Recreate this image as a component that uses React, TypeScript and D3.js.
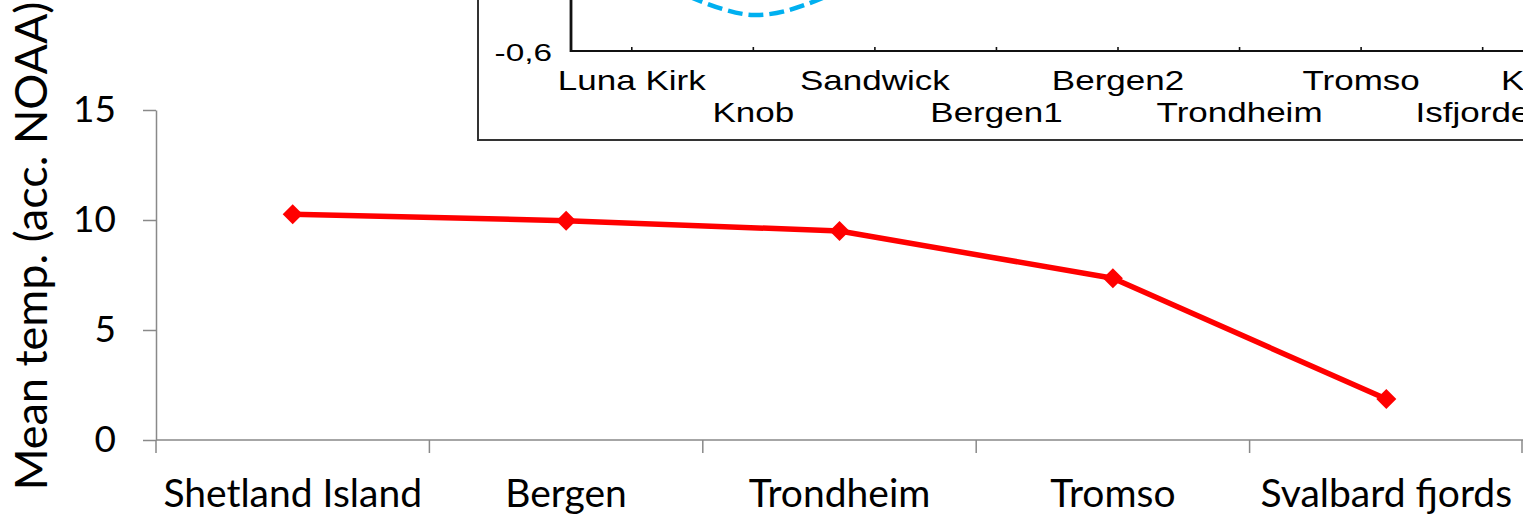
import { useEffect, useRef } from 'react'
import * as d3 from 'd3'

// main chart data
const categories = ['Shetland Island', 'Bergen', 'Trondheim', 'Tromso', 'Svalbard fjords']
const meanTemp = [10.26, 9.97, 9.5, 7.35, 1.86]
const yTicks = [0, 5, 10, 15]

// inset chart (only its lower edge is visible)
const insetSites = ['Luna Kirk', 'Knob', 'Sandwick', 'Bergen1', 'Bergen2', 'Trondheim', 'Tromso', 'Isfjorden', 'Kongsfjorden']
const insetValues: (number | null)[] = [-0.27, -0.456, -0.3, -0.1, null, null, null, null, null]
const insetYTicks = [-0.6]

const W = 1523
const H = 520

export default function App() {
  const svgRef = useRef<SVGSVGElement>(null)

  useEffect(() => {
    if (!svgRef.current) return
    const svg = d3.select(svgRef.current)
    svg.selectAll('*').remove()

    const axisGray = '#898989'
    const calibri = 'Lato, Carlito, Calibri, sans-serif'
    const arial = '"Liberation Sans", Arial, sans-serif'

    // ---- main chart ----
    const x = d3.scaleBand<string>().domain(categories).range([156, 1523])
    const y = d3.scaleLinear().domain([0, 15]).range([440, 110])
    const bw = x.bandwidth()

    const yAxis = svg.append('g')
      .attr('transform', 'translate(156,0)')
      .call(d3.axisLeft(y).tickValues(yTicks).tickSize(13).tickSizeOuter(0).tickPadding(27))
    yAxis.select('.domain').attr('stroke', axisGray).attr('stroke-width', 1.5)
    yAxis.selectAll('.tick line').attr('stroke', axisGray).attr('stroke-width', 1.5)
    yAxis.selectAll('.tick text')
      .attr('fill', '#000')
      .style('font-family', calibri)
      .style('font-size', '37px')

    // x axis: line + ticks at band boundaries
    const xAxis = svg.append('g')
    xAxis.append('line')
      .attr('x1', x.range()[0]).attr('x2', x.range()[1])
      .attr('y1', y(0)).attr('y2', y(0))
      .attr('stroke', axisGray).attr('stroke-width', 1.5)
    const bounds = categories.map(c => x(c) as number).concat([x.range()[1] - 1])
    xAxis.selectAll('.xtick')
      .data(bounds)
      .enter().append('line')
      .attr('class', 'xtick')
      .attr('x1', d => d).attr('x2', d => d)
      .attr('y1', y(0)).attr('y2', y(0) + 13)
      .attr('stroke', axisGray).attr('stroke-width', 1.5)
    xAxis.selectAll('.xlabel')
      .data(categories)
      .enter().append('text')
      .attr('class', 'xlabel')
      .attr('x', d => (x(d) as number) + bw / 2)
      .attr('y', 507)
      .attr('text-anchor', 'middle')
      .style('font-family', calibri)
      .style('font-size', '39px')
      .text(d => d)

    // y axis title
    svg.append('text')
      .attr('transform', 'translate(47,246) rotate(-90)')
      .attr('text-anchor', 'middle')
      .style('font-family', calibri)
      .style('font-size', '45px')
      .text('Mean temp. (acc. NOAA)')

    // series
    const line = d3.line<number>()
      .x((_, i) => (x(categories[i]) as number) + bw / 2)
      .y(d => y(d))
    svg.append('path')
      .datum(meanTemp)
      .attr('fill', 'none')
      .attr('stroke', '#FF0000')
      .attr('stroke-width', 5.5)
      .attr('stroke-linejoin', 'round')
      .attr('d', line)

    svg.selectAll('.marker')
      .data(meanTemp)
      .enter().append('path')
      .attr('class', 'marker')
      .attr('transform', (d, i) => `translate(${(x(categories[i]) as number) + bw / 2},${y(d)}) rotate(45)`)
      .attr('d', d3.symbol(d3.symbolSquare, 200)())
      .attr('fill', '#FF0000')

    // ---- inset chart ----
    const inset = svg.append('g')
    inset.append('rect')
      .attr('x', 478).attr('y', -10)
      .attr('width', 1100).attr('height', 150)
      .attr('fill', '#fff')
      .attr('stroke', '#333')
      .attr('stroke-width', 2)

    const ix = d3.scalePoint<string>().domain(insetSites).range([571, 1665]).padding(0.5)
    const iy = d3.scaleLinear().domain([-0.6, 0.2]).range([51, -149])

    inset.append('line')
      .attr('x1', 571).attr('x2', 1540)
      .attr('y1', iy(-0.6)).attr('y2', iy(-0.6))
      .attr('stroke', '#111').attr('stroke-width', 2)
    inset.append('line')
      .attr('x1', 571).attr('x2', 571)
      .attr('y1', iy(-0.6) + 1).attr('y2', -10)
      .attr('stroke', '#111').attr('stroke-width', 2.8)
    inset.selectAll('.itick')
      .data(insetSites)
      .enter().append('line')
      .attr('class', 'itick')
      .attr('x1', d => ix(d) as number).attr('x2', d => ix(d) as number)
      .attr('y1', iy(-0.6)).attr('y2', iy(-0.6) - 4)
      .attr('stroke', '#111').attr('stroke-width', 1.6)

    inset.selectAll('.ilabel')
      .data(insetSites)
      .enter().append('text')
      .attr('class', 'ilabel')
      .attr('transform', (d, i) => `translate(${ix(d)},${i % 2 === 0 ? 90 : 122}) scale(1.25,1)`)
      .attr('text-anchor', 'middle')
      .style('font-family', arial)
      .style('font-size', '28px')
      .text(d => d)

    inset.selectAll('.iylabel')
      .data(insetYTicks)
      .enter().append('text')
      .attr('class', 'iylabel')
      .attr('transform', d => `translate(552,${iy(d) + 10}) scale(1.45,1)`)
      .attr('text-anchor', 'end')
      .style('font-family', arial)
      .style('font-size', '23px')
      .text(d => d3.format('.1f')(d).replace('.', ',').replace('\u2212', '-'))

    const iline = d3.line<number | null>()
      .defined(d => d != null)
      .x((_, i) => ix(insetSites[i]) as number)
      .y(d => iy(d as number))
      .curve(d3.curveCatmullRom)
    inset.append('path')
      .datum(insetValues)
      .attr('fill', 'none')
      .attr('stroke', '#00B0F0')
      .attr('stroke-width', 4.5)
      .attr('stroke-dasharray', '15,6')
      .attr('d', iline)
  }, [])

  return (
    <svg
      ref={svgRef}
      width={W}
      height={H}
      style={{ position: 'absolute', left: 0, top: 0, background: '#fff' }}
    />
  )
}
